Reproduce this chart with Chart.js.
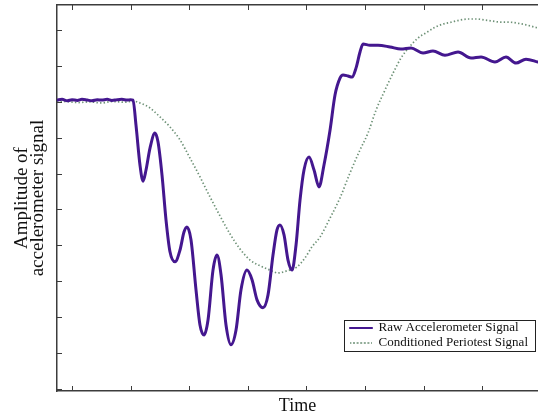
<!DOCTYPE html>
<html>
<head>
<meta charset="utf-8">
<script src="https://cdn.jsdelivr.net/npm/chart.js@4/dist/chart.umd.min.js"></script>
<style>
  body { margin: 0; background: #fff; }
  canvas { display: block; }
</style>
</head>
<body>
<canvas id="myChart" width="538" height="418"></canvas>
<script>
// time in tick units, amplitude in tick units (no tick labels on either axis)
var rawTime = [0.744, 0.83, 0.92, 1.0, 1.09, 1.17, 1.26, 1.34, 1.43, 1.51, 1.6, 1.68, 1.77, 1.85, 1.94, 2.0, 2.041,
    2.092, 2.16, 2.212, 2.263, 2.331, 2.416, 2.468, 2.536, 2.604, 2.672, 2.758, 2.843, 2.911, 2.962,
    3.031, 3.116, 3.184, 3.253, 3.321, 3.406, 3.474, 3.543, 3.628, 3.713, 3.799, 3.884, 3.986,
    4.072, 4.157, 4.259, 4.345, 4.43, 4.498, 4.549, 4.618, 4.686, 4.754, 4.823, 4.891, 4.959,
    5.044, 5.13, 5.215, 5.3, 5.403, 5.488, 5.573, 5.625, 5.71, 5.778, 5.846, 5.915, 5.966,
    6.085, 6.222, 6.427, 6.614, 6.785, 6.99, 7.16, 7.365, 7.587, 7.809, 7.98, 8.218, 8.406, 8.577, 8.747, 8.952];
var rawAmp = [8.05, 8.07, 8.03, 8.06, 8.04, 8.07, 8.05, 8.03, 8.06, 8.05, 8.07, 8.04, 8.06, 8.07, 8.05, 8.06, 8.05,
    7.35, 6.24, 5.79, 6.1, 6.71, 7.13, 6.88, 5.96, 4.71, 3.82, 3.54, 3.87, 4.37, 4.51,
    4.15, 2.76, 1.78, 1.5, 1.92, 3.31, 3.73, 3.18, 1.78, 1.23, 1.64, 2.76, 3.31,
    3.04, 2.48, 2.26, 2.62, 3.73, 4.43, 4.57, 4.29, 3.59, 3.31, 4.01, 5.26, 6.1,
    6.46, 6.1, 5.63, 6.24, 7.21, 8.19, 8.66, 8.75, 8.72, 8.69, 8.94, 9.39, 9.61,
    9.58, 9.58, 9.53, 9.47, 9.5, 9.36, 9.42, 9.3, 9.39, 9.22, 9.25, 9.11, 9.25, 9.08, 9.19, 9.11];

var condTime = [0.744, 0.9, 1.1, 1.3, 1.5, 1.7, 1.9, 2.041, 2.16, 2.331, 2.502, 2.672, 2.843, 3.014, 3.184,
    3.355, 3.526, 3.696, 3.867, 4.038, 4.208, 4.379, 4.515, 4.669, 4.84, 4.976, 5.096, 5.232,
    5.403, 5.573, 5.744, 5.915, 6.051, 6.188, 6.341, 6.478, 6.614, 6.768, 6.904, 7.058, 7.195,
    7.331, 7.468, 7.621, 7.758, 7.911, 8.048, 8.184, 8.321, 8.474, 8.611, 8.765, 8.901, 8.952];
var condAmp = [7.99, 8.01, 7.98, 8.0, 7.97, 8.01, 7.99, 8.02, 7.97, 7.83, 7.58, 7.3, 6.94, 6.43, 5.91,
    5.35, 4.82, 4.32, 3.9, 3.59, 3.43, 3.31, 3.23, 3.29, 3.4, 3.65, 3.96, 4.23,
    4.76, 5.32, 6.02, 6.66, 7.13, 7.77, 8.33, 8.8, 9.22, 9.55, 9.78, 9.94, 10.08,
    10.17, 10.22, 10.28, 10.31, 10.31, 10.28, 10.25, 10.22, 10.22, 10.19, 10.14, 10.08, 10.06];

var xTicks = [1, 2, 3, 4, 5, 6, 7, 8];
var yTicks = [0, 1, 2, 3, 4, 5, 6, 7, 8, 9, 10];

function pairs(xs, ys) {
    return xs.map(function (x, i) { return { x: x, y: ys[i] }; });
}

var serif = "'Liberation Serif', 'Times New Roman', serif";
var axisColor = "#3c3c3c";

var frame = {
    id: 'frame',
    afterLayout: function (chart) {
        var lg = chart.legend;
        var area = chart.chartArea;
        lg.left = area.right - 190;
        lg.top = area.bottom - 71.5;
        lg.right = lg.left + lg.width;
        lg.bottom = lg.top + lg.height;
    },
    afterDraw: function (chart) {
        var ctx = chart.ctx;
        var area = chart.chartArea;
        var xs = chart.scales.x, ys = chart.scales.y;
        ctx.save();
        ctx.strokeStyle = axisColor;
        ctx.lineWidth = 1;
        ctx.beginPath();
        xTicks.forEach(function (v) {
            var px = Math.round(xs.getPixelForValue(v)) + 0.5;
            ctx.moveTo(px, area.bottom); ctx.lineTo(px, area.bottom - 5);
            ctx.moveTo(px, area.top); ctx.lineTo(px, area.top + 5);
        });
        yTicks.forEach(function (v) {
            var py = Math.round(ys.getPixelForValue(v)) + 0.5;
            ctx.moveTo(area.left, py); ctx.lineTo(area.left + 5, py);
        });
        ctx.stroke();
        // legend frame
        var lg = chart.legend;
        ctx.strokeStyle = "#222";
        ctx.strokeRect(Math.round(lg.left - 4) + 0.5, Math.round(lg.top) + 0.5, area.right - 3 - Math.round(lg.left - 4), 31);
        ctx.restore();
    }
};

var ctx = document.getElementById("myChart");

var myChart = new Chart(ctx, {
    type: 'line',
    data: {
        datasets: [
            {
                label: 'Raw Accelerometer Signal',
                data: pairs(rawTime, rawAmp),
                cubicInterpolationMode: 'monotone',
                borderColor: "#44178f",
                backgroundColor: "#44178f",
                borderWidth: 3,
                borderCapStyle: 'round',
                borderJoinStyle: 'round',
                pointRadius: 0,
                fill: false
            },
            {
                label: 'Conditioned Periotest Signal',
                data: pairs(condTime, condAmp),
                cubicInterpolationMode: 'monotone',
                borderColor: "rgba(72,118,84,0.8)",
                backgroundColor: "rgba(72,118,84,0.8)",
                borderWidth: 1.7,
                borderDash: [1.4, 2.2],
                pointRadius: 0,
                fill: false
            }
        ]
    },
    options: {
        responsive: false,
        animation: false,
        devicePixelRatio: 1,
        layout: { padding: 0 },
        scales: {
            x: {
                type: 'linear',
                position: 'bottom',
                min: 0.744,
                max: 8.952,
                afterBuildTicks: function (s) { s.ticks = xTicks.map(function (v) { return { value: v }; }); },
                afterFit: function (s) { s.height = 27; },
                ticks: { display: false },
                grid: { drawOnChartArea: false, drawTicks: false },
                border: { display: true, color: axisColor, width: 1.5 },
                title: {
                    display: true,
                    text: 'Time',
                    color: '#111',
                    font: { family: serif, size: 18, lineHeight: 1 },
                    padding: { top: 0, bottom: 3 }
                }
            },
            xTop: {
                type: 'linear',
                position: 'top',
                min: 0.744,
                max: 8.952,
                afterFit: function (s) { s.height = 5; },
                ticks: { display: false },
                grid: { drawOnChartArea: false, drawTicks: false },
                border: { display: true, color: axisColor, width: 1.5 }
            },
            y: {
                type: 'linear',
                min: -0.06,
                max: 10.7,
                afterBuildTicks: function (s) { s.ticks = yTicks.map(function (v) { return { value: v }; }); },
                afterFit: function (s) { s.width = 57; },
                ticks: { display: false },
                grid: { drawOnChartArea: false, drawTicks: false },
                border: { display: true, color: axisColor, width: 1.5 },
                title: {
                    display: true,
                    text: ['Amplitude of', 'accelerometer signal'],
                    color: '#111',
                    font: { family: serif, size: 19, lineHeight: 0.85 },
                    padding: { top: 14, bottom: 0 }
                }
            }
        },
        plugins: {
            title: { display: false },
            tooltip: { enabled: false },
            legend: {
                display: true,
                position: 'chartArea',
                align: 'start',
                labels: {
                    boxWidth: 22,
                    boxHeight: 0,
                    padding: 2,
                    color: '#111',
                    font: { family: serif, size: 13 },
                    generateLabels: function (chart) {
                        var items = Chart.defaults.plugins.legend.labels.generateLabels(chart);
                        items.forEach(function (it, i) {
                            it.fillStyle = 'rgba(0,0,0,0)';
                            it.lineWidth = i === 0 ? 2.2 : 1.3;
                            it.lineCap = 'butt';
                        });
                        return items;
                    }
                }
            }
        }
    },
    plugins: [frame]
});
</script>
</body>
</html>
